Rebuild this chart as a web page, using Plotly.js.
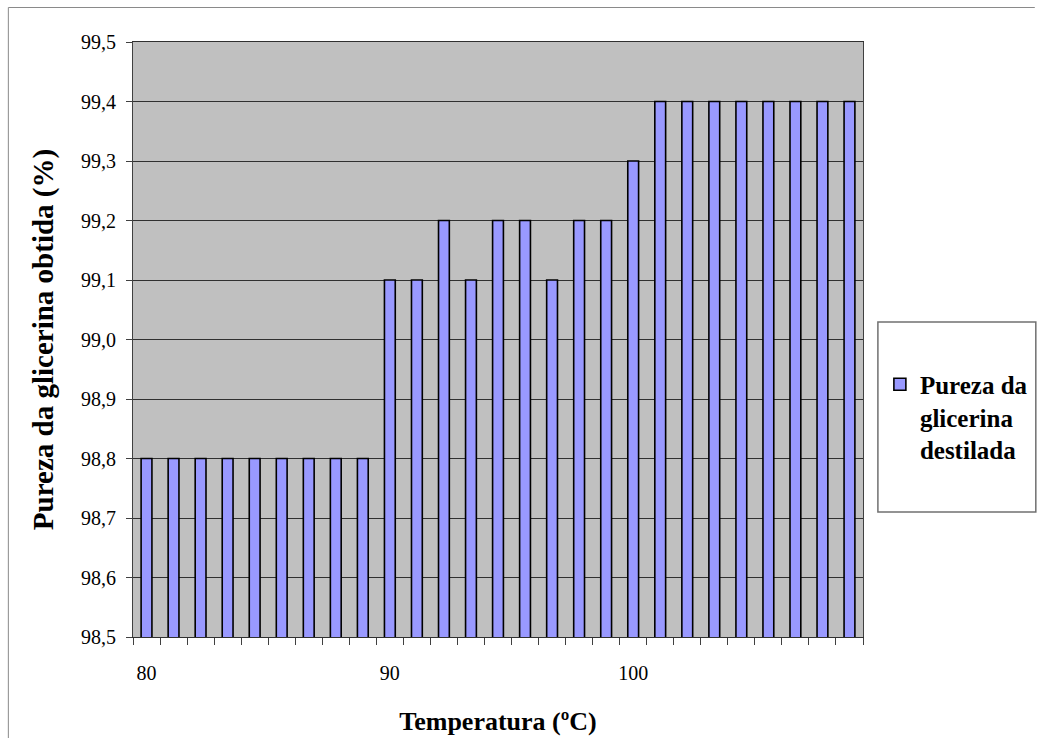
<!DOCTYPE html>
<html>
<head>
<meta charset="utf-8">
<script src="https://cdn.plot.ly/plotly-3.0.1.min.js"></script>
<style>html,body{margin:0;padding:0;background:#fff;overflow:hidden;}#chart{width:1045px;height:742px;}</style>
</head>
<body>
<div id="chart"></div>
<script>
// Temperature categories (ºC) — only 80, 90 and 100 are labelled in the reference
var temperatures = ["80","81,1","82,2","83,3","84,4","85,6","86,7","87,8","88,9",
                    "90","91,1","92,2","93,3","94,4","95,6","96,7","97,8","98,9",
                    "100","101,1","102,2","103,3","104,4","105,6","106,7","107,8","108,9"];
var tickLabels = ["80","","","","","","","","",
                  "90","","","","","","","","",
                  "100","","","","","","","",""];
// Purity of the distilled glycerin (%)
var purity = [98.8,98.8,98.8,98.8,98.8,98.8,98.8,98.8,98.8,
              99.1,99.1,99.2,99.1,99.2,99.2,99.1,99.2,99.2,
              99.3,99.4,99.4,99.4,99.4,99.4,99.4,99.4,99.4];
var seriesName = "<b>Pureza da<br>glicerina<br>destilada</b>";
var yTicks = [98.5,98.6,98.7,98.8,98.9,99.0,99.1,99.2,99.3,99.4,99.5];

var FONT = "Times New Roman";

var trace = {
  type: "bar",
  x: temperatures,
  y: purity,
  name: seriesName,
  marker: {color: "#9999FF", line: {color: "#000000", width: 1.6}}
};

function px2x(px){ return (px - 133) / 735; }
function px2y(py){ return (637 - py) / 595; }

var layout = {
  width: 1045, height: 742,
  margin: {l: 133, r: 177, t: 42, b: 105, pad: 0},
  paper_bgcolor: "#ffffff",
  plot_bgcolor: "#C0C0C0",
  separators: ",.",
  font: {family: "serif", color: "#000"},
  bargap: 0.6,
  showlegend: true,
  xaxis: {
    type: "category",
    tickmode: "array",
    tickvals: temperatures,
    ticktext: tickLabels,
    tickson: "boundaries",
    tickangle: 0,
    ticks: "outside", ticklen: 7, tickcolor: "#404040", tickwidth: 1,
    showgrid: false, zeroline: false,
    showline: true, linecolor: "#303030", linewidth: 1, mirror: true,
    tickfont: {family: "serif", size: 20, color: "#000"},
    ticklabelstandoff: 18,
    automargin: false,
    title: {text: "<b>Temperatura (ºC)</b>", font: {family: FONT, size: 26, color: "#000"}, standoff: 28}
  },
  yaxis: {
    range: [98.5, 99.5],
    tickmode: "array",
    tickvals: yTicks,
    tickformat: ".1f",
    ticks: "outside", ticklen: 6, tickcolor: "#404040", tickwidth: 1,
    showgrid: true, gridcolor: "#303030", gridwidth: 1,
    zeroline: false,
    showline: true, linecolor: "#404040", linewidth: 1, mirror: true,
    tickfont: {family: "serif", size: 20, color: "#000"},
    ticklabelstandoff: 6,
    automargin: false,
    title: {text: "<b>Pureza da glicerina obtida (%)</b>", font: {family: FONT, size: 29, color: "#000"}, standoff: 18}
  },
  legend: {
    x: px2x(885), xanchor: "left",
    y: px2y(417), yanchor: "middle",
    bgcolor: "rgba(0,0,0,0)", borderwidth: 0,
    valign: "top",
    font: {family: FONT, size: 25, color: "#000"}
  },
  shapes: [
    // legend box
    {type: "rect", xref: "paper", yref: "paper", layer: "below",
     x0: px2x(883), x1: px2x(1042), y0: px2y(512), y1: px2y(322),
     line: {color: "#707070", width: 1.5}, fillcolor: "#ffffff"},
    // outer chart frame (left and top edges visible in the reference)
    {type: "path", xref: "paper", yref: "paper", layer: "below",
     path: "M " + px2x(7.5) + " " + px2y(738) + " L " + px2x(7.5) + " " + px2y(7.5) + " L " + px2x(1041) + " " + px2y(7.5),
     line: {color: "#8a8a8a", width: 1}}
  ]
};

Plotly.newPlot("chart", [trace], layout, {staticPlot: true, displayModeBar: false});
</script>
</body>
</html>
